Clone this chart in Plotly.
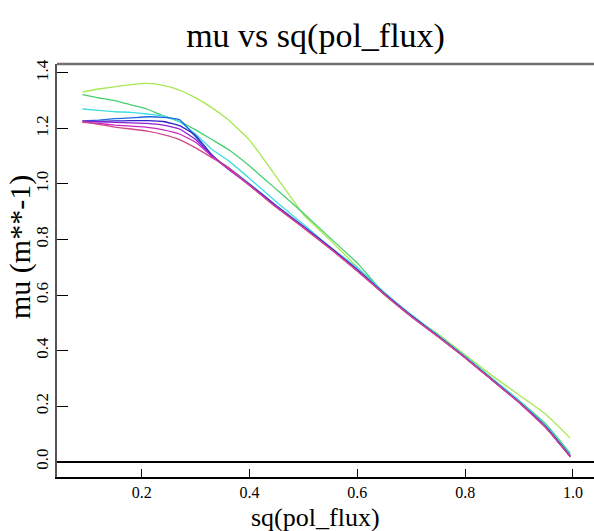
import plotly.graph_objects as go

# x grid (sq(pol_flux))
x = [0.09, 0.12, 0.15, 0.18, 0.21, 0.24, 0.27, 0.30, 0.33, 0.36, 0.40, 0.45, 0.50,
     0.55, 0.60, 0.65, 0.70, 0.75, 0.80, 0.85, 0.90, 0.95, 0.995]

mu_lightgreen = [1.331, 1.342, 1.350, 1.358, 1.362, 1.355, 1.338, 1.310, 1.275, 1.232, 1.158, 1.025, 0.890,
                 0.797, 0.700, 0.600, 0.525, 0.460, 0.385, 0.310, 0.240, 0.170, 0.085]
mu_green = [1.322, 1.310, 1.300, 1.285, 1.270, 1.245, 1.225, 1.195, 1.160, 1.125, 1.065, 0.980, 0.895,
            0.805, 0.715, 0.605, 0.530, 0.455, 0.380, 0.300, 0.220, 0.135, 0.030]
mu_cyan = [1.270, 1.265, 1.260, 1.258, 1.252, 1.245, 1.224, 1.180, 1.125, 1.085, 1.020, 0.935, 0.855,
           0.772, 0.698, 0.610, 0.528, 0.455, 0.380, 0.300, 0.220, 0.130, 0.025]
mu_blue = [1.227, 1.230, 1.235, 1.238, 1.242, 1.240, 1.232, 1.170, 1.100, 1.060, 1.000, 0.922, 0.848,
           0.772, 0.692, 0.606, 0.526, 0.452, 0.376, 0.296, 0.215, 0.125, 0.020]
mu_indigo = [1.225, 1.225, 1.227, 1.228, 1.228, 1.225, 1.210, 1.175, 1.105, 1.055, 0.998, 0.920, 0.846,
             0.770, 0.690, 0.605, 0.525, 0.452, 0.375, 0.295, 0.214, 0.124, 0.020]
mu_purple = [1.226, 1.224, 1.222, 1.220, 1.218, 1.212, 1.198, 1.160, 1.100, 1.055, 0.996, 0.918, 0.844,
             0.768, 0.688, 0.604, 0.524, 0.450, 0.374, 0.294, 0.213, 0.122, 0.018]
mu_magenta = [1.222, 1.218, 1.212, 1.208, 1.204, 1.195, 1.180, 1.150, 1.100, 1.055, 0.995, 0.917, 0.843,
              0.768, 0.688, 0.603, 0.523, 0.450, 0.374, 0.294, 0.213, 0.122, 0.018]
mu_pink = [1.225, 1.215, 1.205, 1.198, 1.190, 1.178, 1.160, 1.130, 1.095, 1.060, 0.995, 0.915, 0.842,
           0.766, 0.686, 0.602, 0.522, 0.450, 0.374, 0.294, 0.213, 0.122, 0.018]

series = [
    ("lightgreen", mu_lightgreen, "#a8e850"),
    ("green", mu_green, "#44d070"),
    ("cyan", mu_cyan, "#40dde0"),
    ("blue", mu_blue, "#2068e0"),
    ("indigo", mu_indigo, "#3020c8"),
    ("purple", mu_purple, "#9020d0"),
    ("magenta", mu_magenta, "#c828c0"),
    ("pink", mu_pink, "#d04888"),
]

x_ticks = [0.2, 0.4, 0.6, 0.8, 1.0]
y_ticks = [0.0, 0.2, 0.4, 0.6, 0.8, 1.0, 1.2, 1.4]

FONT = "Liberation Serif, Times New Roman, DejaVu Serif, serif"
W, H = 594, 531
L, R, T, B = 57, 0, 64, 54

fig = go.Figure()
for name, ys, col in series:
    fig.add_trace(go.Scatter(x=x, y=ys, mode="lines", name=name,
                             line=dict(color=col, width=1.3, shape="spline", smoothing=0.35),
                             showlegend=False))

fig.update_layout(
    width=W, height=H,
    margin=dict(l=L, r=R, t=T, b=B),
    paper_bgcolor="white", plot_bgcolor="white",
    font=dict(family=FONT, color="black"),
    showlegend=False,
    xaxis=dict(range=[0.0428, 1.039], tickvals=x_ticks,
               ticktext=[f"{v:.1f}" for v in x_ticks],
               ticks="inside", ticklen=8, tickcolor="black", tickwidth=1,
               showgrid=False, zeroline=False,
               showline=True, linecolor="black", linewidth=1.5,
               tickfont=dict(family=FONT, size=16)),
    yaxis=dict(range=[-0.055, 1.432], tickvals=y_ticks,
               ticktext=[f"{v:.1f}" for v in y_ticks],
               ticks="inside", ticklen=11, tickcolor="black", tickwidth=1,
               tickangle=-90,
               showgrid=False, zeroline=True, zerolinecolor="black", zerolinewidth=1.5,
               showline=True, linecolor="#555555", linewidth=1.5,
               tickfont=dict(family=FONT, size=17)),
    title=dict(text="mu vs sq(pol_flux)", font=dict(family=FONT, size=34, color="black"),
               x=286 / W, xanchor="center", xref="paper",
               y=1 - 35 / H, yanchor="middle", yref="container"),
)

# axis titles placed as annotations (paper coordinates relative to the plot area)
fig.add_annotation(text="sq(pol_flux)", xref="paper", yref="paper",
                   x=(315 - L) / (W - L - R), y=-(517 - (H - B)) / (H - T - B),
                   xanchor="center", yanchor="middle", showarrow=False,
                   font=dict(family=FONT, size=26, color="black"))
fig.add_annotation(text="mu (m**-1)", xref="paper", yref="paper",
                   x=-(L - 20) / (W - L - R), y=1 - (247 - T) / (H - T - B),
                   xanchor="center", yanchor="middle", showarrow=False, textangle=-90,
                   font=dict(family=FONT, size=30, color="black"))

# grey top border of the plot frame
fig.add_shape(type="line", xref="paper", yref="paper", x0=0, x1=1, y0=1, y1=1,
              line=dict(color="#707070", width=2.5))

fig.write_html("out.html")
